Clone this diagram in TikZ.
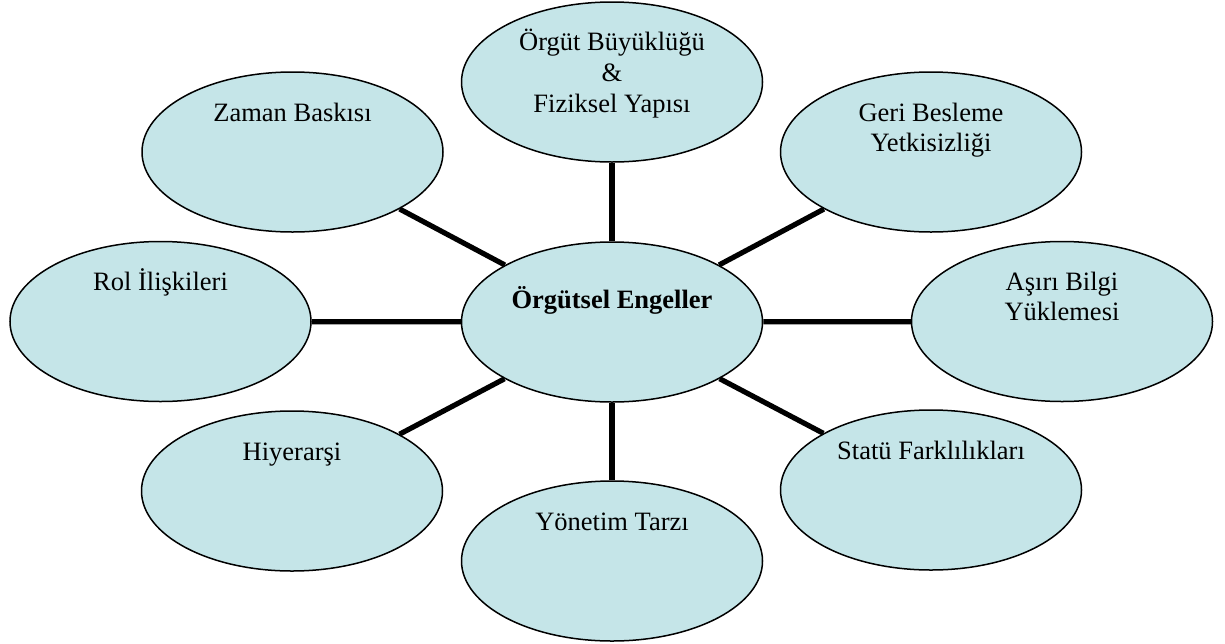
\documentclass[tikz,border=0pt]{standalone}
\usepackage{fontspec}
\setmainfont{Liberation Serif}
\usetikzlibrary{shapes.geometric,calc}
\definecolor{bubblefill}{RGB}{197,229,232}
\begin{document}
\begin{tikzpicture}[x=0.5pt,y=-0.5pt,
  bubble/.style={ellipse,draw=black,line width=0.75pt,fill=bubblefill,minimum width=150.5pt,minimum height=80pt,inner sep=0pt},
  lbl/.style={anchor=base,inner sep=0pt,font=\fontsize{13.25pt}{15.5pt}\selectfont,text=black},
  link/.style={line width=2.6pt}]
\useasboundingbox (0,0) rectangle (1225,643);
\node[bubble] (top) at (612,82) {};
\node[bubble] (zaman) at (292.5,152) {};
\node[bubble] (geri) at (931,152) {};
\node[bubble] (rol) at (160.5,321.5) {};
\node[bubble] (core) at (612,322) {};
\node[bubble] (asiri) at (1062,321.5) {};
\node[bubble] (hiy) at (292,491) {};
\node[bubble] (statu) at (931,490) {};
\node[bubble] (yon) at (612,561) {};
\draw[link] (core) -- (top);
\draw[link] (core) -- (zaman);
\draw[link] (core) -- (geri);
\draw[link] (core) -- (rol);
\draw[link] (core) -- (asiri);
\draw[link] (core) -- (hiy);
\draw[link] (core) -- (statu);
\draw[link] (core) -- (yon);
\node[lbl] (topa) at ($(top)+(0,-32)$) {Örgüt Büyüklüğü};
\node[lbl] (topb) at ($(top)+(0,-1)$) {\&};
\node[lbl] (topc) at ($(top)+(0,30)$) {Fiziksel Yapısı};
\node[lbl] (zamant) at ($(zaman)+(0,-31)$) {Zaman Baskısı};
\node[lbl] (geria) at ($(geri)+(0,-31)$) {Geri Besleme};
\node[lbl] (gerib) at ($(geri)+(0,-1)$) {Yetkisizliği};
\node[lbl] (rolt) at ($(rol)+(0,-31)$) {Rol İlişkileri};
\node[lbl,font=\fontsize{13.25pt}{15.5pt}\selectfont\bfseries] (coret) at ($(core)+(0,-14)$) {Örgütsel Engeller};
\node[lbl] (asiria) at ($(asiri)+(0,-31)$) {Aşırı Bilgi};
\node[lbl] (asirib) at ($(asiri)+(0,-1)$) {Yüklemesi};
\node[lbl] (hiyt) at ($(hiy)+(0,-31)$) {Hiyerarşi};
\node[lbl] (statut) at ($(statu)+(0,-31)$) {Statü Farklılıkları};
\node[lbl] (yont) at ($(yon)+(0,-31)$) {Yönetim Tarzı};
\end{tikzpicture}
\end{document}
